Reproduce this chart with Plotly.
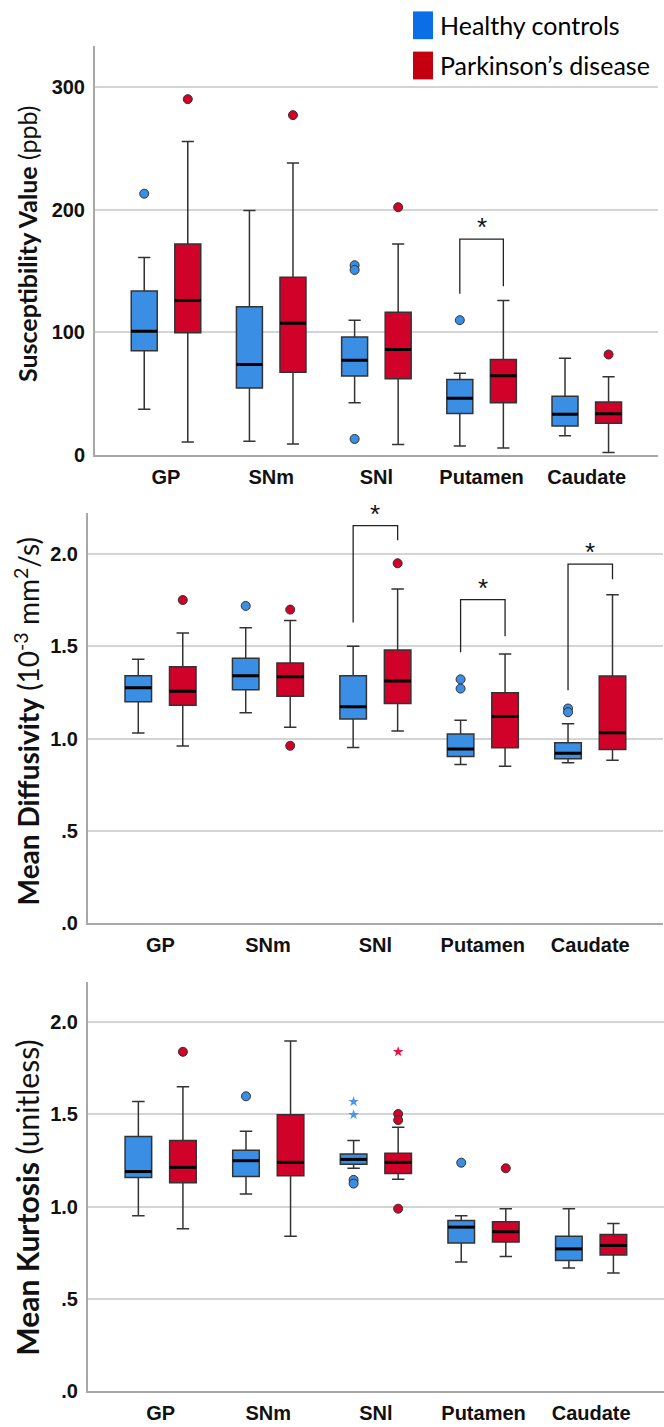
import plotly.graph_objects as go

# ---------------- data ----------------
regions = ["GP", "SNm", "SNl", "Putamen", "Caudate"]

# Panel 1: Susceptibility (ppb)
qsm_hc_low = [37.5, 11.3, 42.8, 7.5, 15.9]
qsm_hc_q1 = [85, 54.7, 64.4, 34, 23.7]
qsm_hc_med = [101, 73.8, 77.3, 46.3, 33.4]
qsm_hc_q3 = [133.7, 121, 96.2, 61.7, 48]
qsm_hc_high = [161, 199.4, 110, 66.8, 79]
qsm_hc_out = [[213], [], [154.7, 150.9, 13.2], [110], []]
qsm_pd_low = [10.8, 9.2, 8.6, 5.9, 2.2]
qsm_pd_q1 = [99.7, 67.6, 62.2, 42.8, 25.9]
qsm_pd_med = [126, 107.5, 86, 64.7, 33.7]
qsm_pd_q3 = [172, 145, 116.4, 77.9, 43.4]
qsm_pd_high = [255.5, 238, 172, 126, 63.9]
qsm_pd_out = [[290], [277], [202], [], [82]]
qsm_sig_region = [3]
qsm_sig_left = [131.5]
qsm_sig_top = [176]
qsm_sig_right = [137.7]

# Panel 2: Mean diffusivity
md_hc_low = [1.03, 1.14, 0.952, 0.86, 0.869]
md_hc_q1 = [1.20, 1.265, 1.106, 0.903, 0.891]
md_hc_med = [1.276, 1.34, 1.172, 0.943, 0.921]
md_hc_q3 = [1.34, 1.435, 1.34, 1.025, 0.978]
md_hc_high = [1.43, 1.60, 1.50, 1.10, 1.08]
md_hc_out = [[], [1.719], [], [1.321, 1.271], [1.163, 1.143]]
md_pd_low = [0.96, 1.061, 1.041, 0.85, 0.882]
md_pd_q1 = [1.181, 1.23, 1.19, 0.95, 0.941]
md_pd_med = [1.256, 1.335, 1.312, 1.12, 1.031]
md_pd_q3 = [1.389, 1.409, 1.48, 1.249, 1.339]
md_pd_high = [1.572, 1.64, 1.81, 1.459, 1.779]
md_pd_out = [[1.751], [1.699, 0.961], [1.95], [], []]
md_sig_region = [2, 3, 4]
md_sig_left = [1.629, 1.468, 1.262]
md_sig_top = [2.154, 1.753, 1.945]
md_sig_right = [2.075, 1.555, 1.864]

# Panel 3: Mean kurtosis
mk_hc_low = [0.95, 1.068, 1.208, 0.70, 0.668]
mk_hc_q1 = [1.158, 1.163, 1.23, 0.803, 0.708]
mk_hc_med = [1.19, 1.249, 1.256, 0.889, 0.771]
mk_hc_q3 = [1.38, 1.306, 1.285, 0.925, 0.839]
mk_hc_high = [1.57, 1.409, 1.359, 0.95, 0.988]
mk_hc_out = [[], [1.598], [1.145, 1.125], [1.238], []]
mk_hc_ext = [[], [], [1.569, 1.498], [], []]
mk_pd_low = [0.88, 0.84, 1.149, 0.73, 0.64]
mk_pd_q1 = [1.129, 1.168, 1.179, 0.808, 0.738]
mk_pd_med = [1.213, 1.24, 1.24, 0.864, 0.79]
mk_pd_q3 = [1.359, 1.498, 1.289, 0.918, 0.849]
mk_pd_high = [1.649, 1.898, 1.43, 0.988, 0.909]
mk_pd_out = [[1.839], [], [1.502, 1.469, 0.989], [1.208], []]
mk_pd_ext = [[], [], [1.839], [], []]

# ---------------- styling ----------------
W, H = 664, 1427
HC_FILL = "#3a8ee3"
PD_FILL = "#d0022a"
HC_LEG = "#0a6ee6"
PD_LEG = "#c40010"
OFF = 0.207
BW = 0.247
TICKFONT = dict(family="Liberation Sans, Arial, sans-serif", size=20, color="#111", weight="bold")

panels = [
    dict(ax="", x0=95, x1=658, ytop=46, ybot=458.7, yr=[0, 333.6],
         tv=[0, 100, 200, 300], tt=["0", "100", "200", "300"],
         hc=(qsm_hc_low, qsm_hc_q1, qsm_hc_med, qsm_hc_q3, qsm_hc_high, qsm_hc_out, None),
         pd=(qsm_pd_low, qsm_pd_q1, qsm_pd_med, qsm_pd_q3, qsm_pd_high, qsm_pd_out, None),
         sig=(qsm_sig_region, qsm_sig_left, qsm_sig_top, qsm_sig_right),
         title="<b>Susceptibility Value</b> (ppb)", tsize=25, tcy=246),
    dict(ax="2", x0=88, x1=663, ytop=516.7, ybot=930.3, yr=[0, 2.224],
         tv=[0, 0.5, 1, 1.5, 2], tt=[".0", ".5", "1.0", "1.5", "2.0"],
         hc=(md_hc_low, md_hc_q1, md_hc_med, md_hc_q3, md_hc_high, md_hc_out, None),
         pd=(md_pd_low, md_pd_q1, md_pd_med, md_pd_q3, md_pd_high, md_pd_out, None),
         sig=(md_sig_region, md_sig_left, md_sig_top, md_sig_right),
         title="<b>Mean Diffusivity</b> (10<sup>-3</sup> mm<sup>2</sup>/s)", tsize=28, tcy=727),
    dict(ax="3", x0=88, x1=664, ytop=989.3, ybot=1402, yr=[0, 2.219],
         tv=[0, 0.5, 1, 1.5, 2], tt=[".0", ".5", "1.0", "1.5", "2.0"],
         hc=(mk_hc_low, mk_hc_q1, mk_hc_med, mk_hc_q3, mk_hc_high, mk_hc_out, mk_hc_ext),
         pd=(mk_pd_low, mk_pd_q1, mk_pd_med, mk_pd_q3, mk_pd_high, mk_pd_out, mk_pd_ext),
         sig=None,
         title="<b>Mean Kurtosis</b> (unitless)", tsize=30, tcy=1207),
]

fig = go.Figure()
layout = {}
annotations = []
shapes = []

for p in panels:
    xa, ya = "x" + p["ax"], "y" + p["ax"]
    xkey, ykey = "xaxis" + p["ax"], "yaxis" + p["ax"]
    for grp, off, fill in (("hc", -OFF, HC_FILL), ("pd", OFF, PD_FILL)):
        low, q1, med, q3, high, outs, exts = p[grp]
        xs = [i + off for i in range(len(regions))]
        fig.add_trace(go.Box(
            x=xs, q1=q1, median=med, q3=q3, lowerfence=low, upperfence=high,
            width=BW, whiskerwidth=0.47, fillcolor=fill,
            line=dict(color="#333333", width=1.5), boxpoints=False,
            xaxis=xa, yaxis=ya, showlegend=False, hoverinfo="skip"))
        # thick black medians
        mx, my = [], []
        for x, m in zip(xs, med):
            mx += [x - BW / 2, x + BW / 2, None]
            my += [m, m, None]
        fig.add_trace(go.Scatter(x=mx, y=my, mode="lines",
                                 line=dict(color="#000", width=3),
                                 xaxis=xa, yaxis=ya, showlegend=False, hoverinfo="skip"))
        ox, oy = [], []
        for x, vals in zip(xs, outs):
            ox += [x] * len(vals)
            oy += vals
        fig.add_trace(go.Scatter(x=ox, y=oy, mode="markers",
                                 marker=dict(symbol="circle", size=9, color=fill,
                                             line=dict(color="#333", width=1)),
                                 xaxis=xa, yaxis=ya, showlegend=False, hoverinfo="skip"))
        if exts is not None:
            ex, ey = [], []
            for x, vals in zip(xs, exts):
                ex += [x] * len(vals)
                ey += vals
            fig.add_trace(go.Scatter(x=ex, y=ey, mode="markers",
                                     marker=dict(symbol="star", size=8,
                                                 color=("#4a94ee" if grp == "hc" else "#e8143c"),
                                                 line=dict(width=0)),
                                     xaxis=xa, yaxis=ya, showlegend=False, hoverinfo="skip"))
    if p["sig"] is not None:
        for r, l, t, rr in zip(*p["sig"]):
            xl, xr = r - OFF, r + OFF
            shapes.append(dict(type="path", xref=xa, yref=ya,
                               path=f"M {xl},{l} L {xl},{t} L {xr},{t} L {xr},{rr}",
                               line=dict(color="#222", width=1.3)))
            annotations.append(dict(x=r, y=t, xref=xa, yref=ya, text="*",
                                    showarrow=False, yanchor="bottom", yshift=-5,
                                    font=dict(family="Liberation Sans, Arial", size=26, color="#111")))
    layout[xkey] = dict(domain=[p["x0"] / W, p["x1"] / W], range=[-0.675, 4.677],
                        anchor=ya, tickvals=list(range(len(regions))), ticktext=regions,
                        tickfont=TICKFONT, showgrid=False, zeroline=False,
                        showline=True, linecolor="#a8a8a8", linewidth=2, ticks="",
                        ticklabelstandoff=3)
    layout[ykey] = dict(domain=[1 - p["ybot"] / H, 1 - p["ytop"] / H], range=p["yr"],
                        anchor=xa, tickvals=p["tv"], ticktext=p["tt"], tickfont=TICKFONT,
                        showgrid=True, gridcolor="#d4d4d4", gridwidth=1.6, zeroline=False,
                        showline=True, linecolor="#a8a8a8", linewidth=2, ticks="",
                        ticklabelstandoff=4)
    annotations.append(dict(x=27 / W, y=1 - p["tcy"] / H,
                            xref="paper", yref="paper", text=p["title"], textangle=-90,
                            showarrow=False, xanchor="center", yanchor="middle",
                            font=dict(family="Lato, Open Sans, sans-serif", size=p["tsize"], color="#111")))

# legend drawn manually (top right)
for label, color, yc in (("Healthy controls", HC_LEG, 25.5), ("Parkinson’s disease", PD_LEG, 66)):
    shapes.append(dict(type="rect", xref="paper", yref="paper",
                       x0=413 / W, x1=433 / W, y0=1 - (yc + 14) / H, y1=1 - (yc - 14) / H,
                       fillcolor=color, line=dict(color=color, width=0)))
    annotations.append(dict(x=438 / W, y=1 - yc / H, xref="paper", yref="paper",
                            text=label, showarrow=False, xanchor="left", yanchor="middle",
                            font=dict(family="Lato, Open Sans, sans-serif", size=25, color="#000")))

fig.update_layout(width=W, height=H, margin=dict(l=0, r=0, t=0, b=0),
                  paper_bgcolor="white", plot_bgcolor="white",
                  annotations=annotations, shapes=shapes, showlegend=False, **layout)

fig.write_html("out.html", config={"displayModeBar": False},
               post_script="document.body.style.margin='0';")
